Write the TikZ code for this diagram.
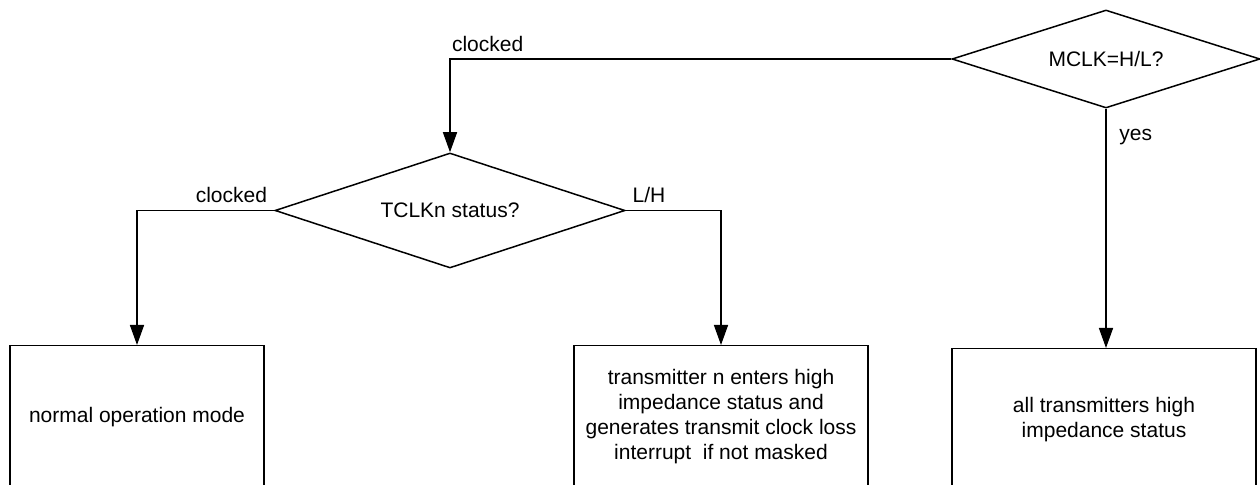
\documentclass[tikz,border=0pt]{standalone}
\usepackage{fontspec}
\setmainfont{Liberation Sans}
\usetikzlibrary{shapes.geometric,arrows.meta,positioning}

\begin{document}
\begin{tikzpicture}[
                        x=0.5pt, y=-0.5pt,
                        >={Triangle[length=10pt,width=7pt]},
                        line width=0.75pt,
                        font=\fontsize{10.5}{12.5}\selectfont,
                        decision/.style={diamond, draw, inner sep=0pt},
                        block/.style={rectangle, draw, align=center, inner sep=0pt, minimum height=71pt, anchor=north}
                    ]
                    \clip (0,0) rectangle (1260,485);
                    % Blocks
                    \node [decision, shape aspect=3.14, minimum width=154pt, minimum height=49pt] (mclk) at (1106,59) {MCLK=H/L?};
                    \node [decision, shape aspect=3.04, minimum width=175pt, minimum height=57.5pt] (tclk) at (450,210.5) {TCLKn status?};
                    \node [block, minimum width=127pt] (normal) at (137,345) {normal operation mode};
                    \node [block, minimum width=147pt] (txhigh) at (721,345) {transmitter n enters high\\impedance status and\\generates transmit clock loss\\interrupt\ \ if not masked};
                    \node [block, minimum width=152pt] (allhigh) at (1104,348) {all transmitters high\\impedance status};

                    % Connections
                    \draw [->] (mclk.west) -| node[pos=0.4625, above]{clocked} (tclk.north);
                    \draw [->] (tclk.west) -| node[pos=0.156, above]{clocked} (normal.north);
                    \draw [->] (tclk.east) -| node[pos=0.122, above]{L/H} (txhigh.north);
                    \draw [->] (mclk.south) -- node[pos=0.12, right, xshift=3pt]{yes} (mclk.south |- allhigh.north);
                \end{tikzpicture}
\end{document}
